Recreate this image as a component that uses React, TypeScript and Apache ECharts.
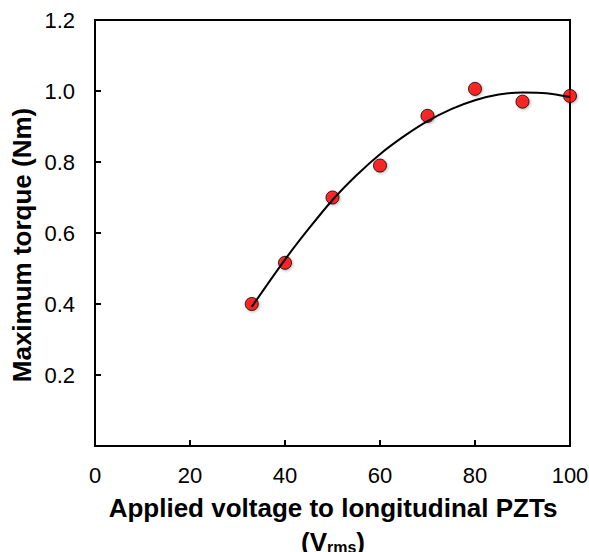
import React, { useEffect, useRef } from "react";
import * as echarts from "echarts";

// Measured data points (Applied voltage Vrms, maximum torque Nm)
const voltage = [33, 40, 50, 60, 70, 80, 90, 100];
const torque = [0.4, 0.516, 0.7, 0.79, 0.93, 1.006, 0.97, 0.986];

// Fitted trend curve
const fitVoltage = [33, 40, 45, 50, 55, 60, 65, 70, 75, 80, 85, 90, 95, 100];
const fitTorque = [0.392, 0.525, 0.612, 0.693, 0.762, 0.822, 0.872, 0.915, 0.949, 0.974, 0.99, 0.996, 0.994, 0.983];

const xTitle = "Applied voltage to longitudinal PZTs";
const yTitle = "Maximum torque (Nm)";

const FONT = "'Liberation Sans', Arial, Helvetica, sans-serif";

export default function App() {
  const ref = useRef<HTMLDivElement>(null);
  useEffect(() => {
    if (!ref.current) return;
    const chart = echarts.init(ref.current, undefined, { renderer: "svg" });
    const axisLine = { show: true, lineStyle: { color: "#000", width: 2 } };
    chart.setOption({
      animation: false,
      backgroundColor: "#fff",
      grid: {
        left: 95,
        right: 19,
        top: 20,
        bottom: 106,
        show: true,
        borderColor: "#000",
        borderWidth: 2,
        outerBoundsMode: "none",
      },
      xAxis: {
        type: "value",
        min: 0,
        max: 100,
        interval: 20,
        axisLine: { ...axisLine, onZero: false },
        axisTick: { show: true, inside: true, length: 6, lineStyle: { color: "#000", width: 2 } },
        axisLabel: { color: "#000", fontSize: 22, fontFamily: FONT, margin: 18 },
        splitLine: { show: false },
      },
      yAxis: {
        type: "value",
        min: 0,
        max: 1.2,
        interval: 0.2,
        axisLine: { ...axisLine, onZero: false },
        axisTick: { show: true, inside: true, length: 6, lineStyle: { color: "#000", width: 2 } },
        axisLabel: {
          color: "#000",
          fontSize: 22,
          fontFamily: FONT,
          margin: 20,
          showMinLabel: false,
          formatter: (v: number) => v.toFixed(1),
        },
        splitLine: { show: false },
      },
      graphic: [
        {
          type: "text",
          x: 333,
          y: 508,
          style: {
            text: xTitle,
            font: `bold 26px ${FONT}`,
            fill: "#000",
            textAlign: "center",
            textVerticalAlign: "middle",
          },
        },
        {
          type: "text",
          x: 333,
          y: 542,
          style: {
            text: "({v|V}{s|rms})",
            font: `bold 26px ${FONT}`,
            fill: "#000",
            textAlign: "center",
            textVerticalAlign: "middle",
            rich: {
              v: { font: `bold 26px ${FONT}`, fill: "#000" },
              s: { font: `bold 16px ${FONT}`, fill: "#000", verticalAlign: "bottom", padding: [10, 0, 0, 0] },
            },
          },
        },
        {
          type: "text",
          x: 22,
          y: 245,
          rotation: Math.PI / 2,
          style: {
            text: yTitle,
            font: `bold 26px ${FONT}`,
            fill: "#000",
            textAlign: "center",
            textVerticalAlign: "middle",
          },
        },
      ],
      series: [
        {
          type: "scatter",
          data: voltage.map((v, i) => [v, torque[i]]),
          symbol: "circle",
          symbolSize: 13,
          itemStyle: {
            color: "#ff0000",
            borderColor: "#000",
            borderWidth: 1,
            shadowBlur: 3,
            shadowColor: "rgba(0,0,0,0.35)",
            shadowOffsetX: 1,
            shadowOffsetY: 1,
          },
          z: 2,
        },
        {
          type: "line",
          data: fitVoltage.map((v, i) => [v, fitTorque[i]]),
          smooth: 0.3,
          showSymbol: false,
          symbol: "none",
          lineStyle: { color: "#000", width: 2 },
          z: 3,
        },
      ],
    });
    return () => chart.dispose();
  }, []);
  return (
    <div
      ref={ref}
      style={{ position: "absolute", left: 0, top: 0, width: 589, height: 552 }}
    />
  );
}
